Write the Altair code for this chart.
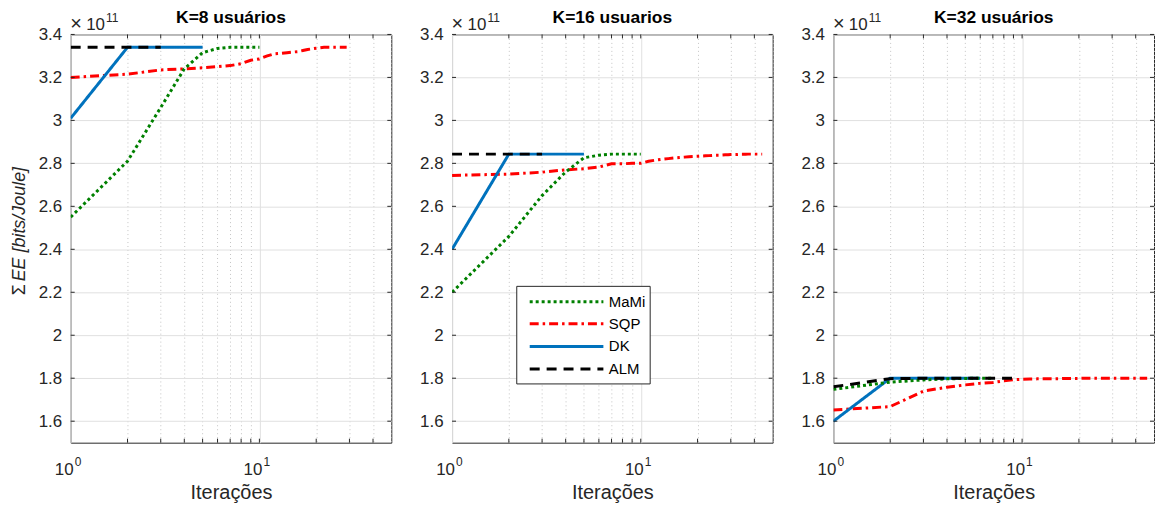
import altair as alt
import pandas as pd

FONT = "Liberation Sans"
INK = "#262626"

methods = ["MaMi", "SQP", "DK", "ALM"]
method_colors = ["#008000", "#FF0000", "#0072BD", "#000000"]
method_dashes = [[3, 3], [9, 4, 2.5, 4], [1, 0], [10, 7]]
draw_order = ["SQP", "DK", "MaMi", "ALM"]

panel_titles = ["K=8 usuários", "K=16 usuarios", "K=32 usuários"]

# ---- K = 8 ----
k8_mami_x = [1, 2, 3, 4, 5, 6, 7, 8, 9, 10]
k8_mami_y = [2.55, 2.81, 3.06, 3.24, 3.315, 3.335, 3.34, 3.34, 3.34, 3.34]
k8_sqp_x = list(range(1, 30))
k8_sqp_y = [3.200, 3.215, 3.235, 3.240, 3.245, 3.250, 3.255, 3.264, 3.280, 3.286,
            3.300, 3.310, 3.312, 3.315, 3.318, 3.320, 3.325, 3.330, 3.333, 3.336,
            3.338, 3.340, 3.340, 3.340, 3.340, 3.340, 3.340, 3.340, 3.340]
k8_dk_x = [1, 2, 3, 4, 5]
k8_dk_y = [3.01, 3.34, 3.34, 3.34, 3.34]
k8_alm_x = [1, 2, 3]
k8_alm_y = [3.34, 3.34, 3.34]

# ---- K = 16 ----
k16_mami_x = [1, 2, 3, 4, 5, 6, 7, 8, 9, 10]
k16_mami_y = [2.20, 2.46, 2.65, 2.76, 2.826, 2.838, 2.843, 2.843, 2.843, 2.843]
k16_sqp_x = list(range(1, 45))
k16_sqp_y = [2.744, 2.750, 2.759, 2.770, 2.775, 2.783, 2.798, 2.798, 2.800, 2.800,
             2.810, 2.815, 2.819, 2.822, 2.825, 2.827, 2.829, 2.831, 2.832, 2.833,
             2.834, 2.835, 2.836, 2.837, 2.838, 2.838, 2.839, 2.840, 2.840, 2.841,
             2.841, 2.841, 2.842, 2.842, 2.842, 2.842, 2.843, 2.843, 2.843, 2.843,
             2.843, 2.843, 2.843, 2.843]
k16_dk_x = [1, 2, 3, 4, 5]
k16_dk_y = [2.40, 2.843, 2.843, 2.843, 2.843]
k16_alm_x = [1, 2, 3]
k16_alm_y = [2.843, 2.843, 2.843]

# ---- K = 32 ----
k32_mami_x = [1, 2, 3, 4, 5, 6, 7]
k32_mami_y = [1.748, 1.782, 1.792, 1.797, 1.799, 1.800, 1.800]
k32_sqp_x = list(range(1, 47))
k32_sqp_y = [1.652, 1.668, 1.740, 1.758, 1.769, 1.776, 1.780, 1.788, 1.793, 1.795,
             1.796, 1.797, 1.797, 1.798, 1.798, 1.798, 1.799, 1.799, 1.799, 1.799,
             1.800, 1.800, 1.800, 1.800, 1.800, 1.800, 1.800, 1.800, 1.800, 1.800,
             1.800, 1.800, 1.800, 1.800, 1.800, 1.800, 1.800, 1.800, 1.800, 1.800,
             1.800, 1.800, 1.800, 1.800, 1.800, 1.800]
k32_dk_x = [1, 2, 3, 4, 5, 6]
k32_dk_y = [1.600, 1.800, 1.800, 1.800, 1.800, 1.800]
k32_alm_x = [1, 2, 3, 4, 5, 6, 7, 8, 9]
k32_alm_y = [1.760, 1.798, 1.800, 1.800, 1.800, 1.800, 1.800, 1.800, 1.800]

panels = [
    {"MaMi": (k8_mami_x, k8_mami_y), "SQP": (k8_sqp_x, k8_sqp_y),
     "DK": (k8_dk_x, k8_dk_y), "ALM": (k8_alm_x, k8_alm_y)},
    {"MaMi": (k16_mami_x, k16_mami_y), "SQP": (k16_sqp_x, k16_sqp_y),
     "DK": (k16_dk_x, k16_dk_y), "ALM": (k16_alm_x, k16_alm_y)},
    {"MaMi": (k32_mami_x, k32_mami_y), "SQP": (k32_sqp_x, k32_sqp_y),
     "DK": (k32_dk_x, k32_dk_y), "ALM": (k32_alm_x, k32_alm_y)},
]

# axis ticks / grid
x_grid_values = [1, 2, 3, 4, 5, 6, 7, 8, 9, 10, 20, 30, 40, 50]
x_tick_values = [2, 3, 4, 5, 6, 7, 8, 9, 10, 20, 30, 40]
x_label_values = [1, 10]
x_label_bases = ["10", "10"]
x_label_exps = ["0", "1"]
y_tick_values = [1.6, 1.8, 2.0, 2.2, 2.4, 2.6, 2.8, 3.0, 3.2, 3.4]
y_label_text = "EE [bits/Joule]"
x_label_text = "Iterações"
exponent_text = "11"

W, H = 322, 410
LW = 3

xscale = alt.Scale(type="log", domain=[1, 50], nice=False)
yscale = alt.Scale(domain=[1.5, 3.4], nice=False, zero=False)
color_scale = alt.Scale(domain=methods, range=method_colors)
dash_scale = alt.Scale(domain=methods, range=method_dashes)

xaxis = alt.Axis(
    values=x_grid_values, grid=True, labels=False, ticks=False, domain=False,
    gridDash={"condition": {"test": "datum.value === 1 || datum.value === 10", "value": []},
              "value": [1, 3]},
    gridColor={"condition": {"test": "datum.value === 1 || datum.value === 10", "value": "#E0E0E0"},
               "value": "#C4C4C4"},
    gridWidth=1,
    title=x_label_text, titleFont=FONT, titleFontSize=20, titleFontWeight="normal",
    titleColor=INK, titlePadding=40,
)
yaxis = alt.Axis(
    values=y_tick_values, format="~g", grid=True, gridColor="#E0E0E0", gridWidth=1,
    ticks=False, domain=False, labelFont=FONT, labelFontSize=17, labelColor=INK,
    labelPadding=9, minExtent=34, maxExtent=34, title=None,
)


def X(field="it"):
    return alt.X(f"{field}:Q", scale=xscale, axis=xaxis)


def Y(field="ee"):
    return alt.Y(f"{field}:Q", scale=yscale, axis=yaxis)


def make_panel(i):
    layers = []
    for m in draw_order:
        xs, ys = panels[i][m]
        df = pd.DataFrame({"it": xs, "ee": ys, "method": m})
        layers.append(
            alt.Chart(df).mark_line(strokeWidth=LW, strokeCap="butt", clip=True).encode(
                x=X(), y=Y(),
                color=alt.Color("method:N", scale=color_scale, legend=None),
                strokeDash=alt.StrokeDash("method:N", scale=dash_scale, legend=None),
            )
        )
    # inward ticks
    xt = pd.DataFrame({"it": x_tick_values})
    layers.append(alt.Chart(xt).mark_rule(color=INK, strokeWidth=1).encode(
        x=X(), y=alt.value(H - 4), y2=alt.value(H)))
    layers.append(alt.Chart(xt).mark_rule(color=INK, strokeWidth=1).encode(
        x=X(), y=alt.value(0), y2=alt.value(4)))
    yt = pd.DataFrame({"ee": y_tick_values})
    layers.append(alt.Chart(yt).mark_rule(color=INK, strokeWidth=1).encode(
        y=Y(), x=alt.value(0), x2=alt.value(4)))
    layers.append(alt.Chart(yt).mark_rule(color=INK, strokeWidth=1).encode(
        y=Y(), x=alt.value(W - 4), x2=alt.value(W)))
    # x tick labels 10^k
    xl = pd.DataFrame({"it": x_label_values, "base": x_label_bases, "exp": x_label_exps})
    layers.append(alt.Chart(xl).mark_text(font=FONT, fontSize=17, color=INK, align="right",
                                          baseline="alphabetic", dx=3).encode(
        x=X(), y=alt.value(H + 32), text="base:N"))
    layers.append(alt.Chart(xl).mark_text(font=FONT, fontSize=12, color=INK, align="left",
                                          baseline="alphabetic", dx=4).encode(
        x=X(), y=alt.value(H + 23.5), text="exp:N"))
    # x10^11 multiplier
    mult = pd.DataFrame({"x": ["×"], "t": ["10"], "e": [exponent_text]})
    layers.append(alt.Chart(mult).mark_text(font=FONT, fontSize=20, color=INK, align="left",
                                            baseline="alphabetic").encode(
        x=alt.value(-0.5), y=alt.value(-4), text="x:N"))
    layers.append(alt.Chart(mult).mark_text(font=FONT, fontSize=17, color=INK, align="left",
                                            baseline="alphabetic").encode(
        x=alt.value(15.5), y=alt.value(-4), text="t:N"))
    layers.append(alt.Chart(mult).mark_text(font=FONT, fontSize=12, color=INK, align="left",
                                            baseline="alphabetic").encode(
        x=alt.value(35.5), y=alt.value(-12), text="e:N"))
    # panel title
    tdf = pd.DataFrame({"t": [panel_titles[i]]})
    layers.append(alt.Chart(tdf).mark_text(font=FONT, fontSize=17.5, fontWeight="bold",
                                           color="black", align="center",
                                           baseline="alphabetic").encode(
        x=alt.value(W / 2), y=alt.value(-11), text="t:N"))
    if i == 0:
        sdf = pd.DataFrame({"t": ["Σ"], "u": [y_label_text]})
        layers.append(alt.Chart(sdf).mark_text(font=FONT, fontSize=18, color=INK, align="left",
                                               baseline="middle", angle=270).encode(
            x=alt.value(-51), y=alt.value(262), text="t:N"))
        layers.append(alt.Chart(sdf).mark_text(font=FONT, fontSize=18, color=INK, align="left",
                                               baseline="middle", angle=270,
                                               fontStyle="italic").encode(
            x=alt.value(-51), y=alt.value(248), text="u:N"))
    if i == 1:
        box = pd.DataFrame({"b": [1]})
        layers.append(alt.Chart(box).mark_rect(fill="white", stroke=INK, strokeWidth=1).encode(
            x=alt.value(65), x2=alt.value(199), y=alt.value(253), y2=alt.value(351)))
        row_y = [268.4, 290.5, 313.4, 336]
        for m, ry in zip(methods, row_y):
            ldf = pd.DataFrame({"method": [m]})
            layers.append(alt.Chart(ldf).mark_rule(strokeWidth=LW, strokeCap="butt").encode(
                x=alt.value(78), x2=alt.value(152), y=alt.value(ry),
                color=alt.Color("method:N", scale=color_scale, legend=None),
                strokeDash=alt.StrokeDash("method:N", scale=dash_scale, legend=None)))
            layers.append(alt.Chart(ldf).mark_text(font=FONT, fontSize=15, color="black",
                                                   align="left", baseline="middle").encode(
                x=alt.value(157.5), y=alt.value(ry), text="method:N"))
    return alt.layer(*layers).properties(width=W, height=H)


chart = alt.hconcat(make_panel(0), make_panel(1), make_panel(2), spacing=25).properties(
    padding={"left": 10, "top": 7.5, "right": 0, "bottom": 0},
    background="white",
).configure_view(stroke=INK, strokeWidth=1)

chart.save("out.html", embed_options={"renderer": "svg", "actions": False})
